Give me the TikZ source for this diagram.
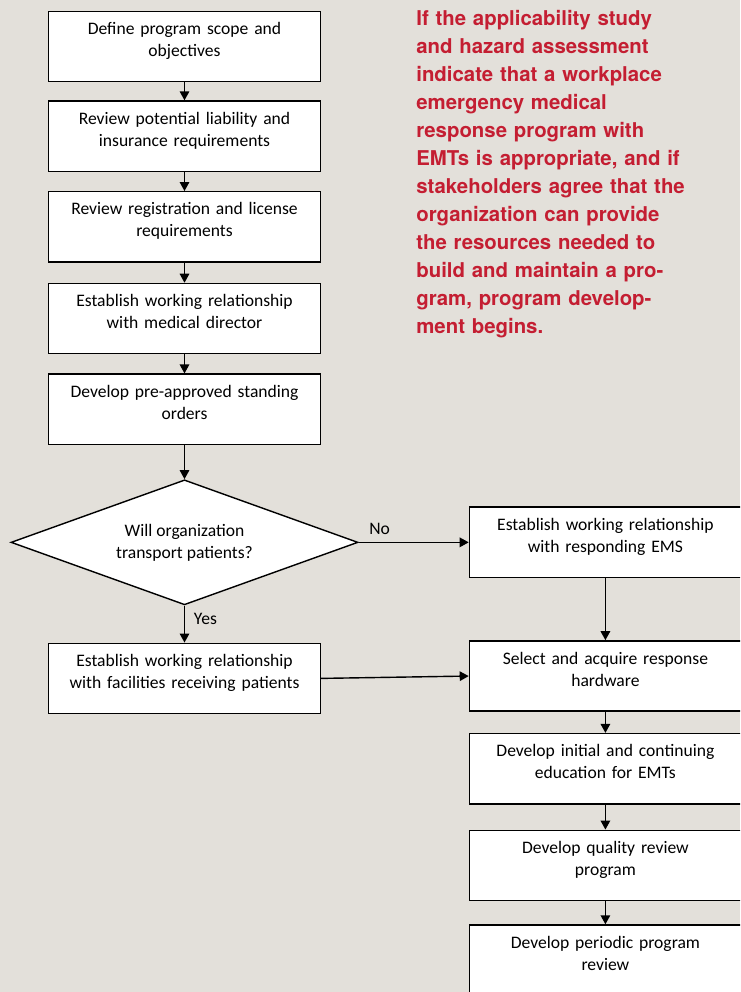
\documentclass[tikz,border=0pt]{standalone}
\usepackage{fontspec}
\setmainfont{Carlito}
\newfontfamily\introfont{TeX Gyre Heros}
\usetikzlibrary{positioning,arrows.meta,shapes.geometric}
\definecolor{pagebg}{RGB}{227,224,218}
\definecolor{introred}{RGB}{196,30,50}
\tikzset{
  box/.style={draw, fill=white, line width=0.8pt, align=center, text width=5.2cm, minimum width=5.44cm, inner ysep=1.2pt, text height=12pt, text depth=25.6pt, font=\fontsize{10}{12.5}\selectfont},
  decision/.style={draw, fill=white, diamond, aspect=2.78, line width=0.8pt, align=center, inner sep=0pt, minimum width=6.94cm, minimum height=2.5cm, font=\fontsize{10}{12.5}\selectfont},
  arrow/.style={-{Triangle[length=1.8mm, width=1.9mm]}, line width=0.8pt},
  lbl/.style={font=\fontsize{10}{12}\selectfont, inner sep=1pt}
}
\begin{document}
\begin{tikzpicture}
  \fill[pagebg] (0,0) rectangle (14.8,-19.84);
  \useasboundingbox (0,0) rectangle (14.8,-19.84);
  \clip (0,0) rectangle (14.8,-19.84);
  % intro text
  \node[anchor=base west, inner sep=0pt, text width=6.2cm, align=left, text=introred,
        font=\introfont\bfseries\fontsize{11.6}{15.9}\selectfont] (intro) at (8.32,-0.52)
    {If the applicability study\\and hazard assessment\\indicate that a workplace\\emergency medical\\response program with\\EMTs is appropriate, and if\\stakeholders agree that the\\organization can provide\\the resources needed to\\build and maintain a pro-\\gram, program develop-\\ment begins.};
  % left column
  \node[box] (scope) at (3.69,-0.93) {Define program scope and\\objectives};
  \node[box, below=0.36cm of scope] (liab) {Review potential liability and\\insurance requirements};
  \node[box, below=0.38cm of liab] (regis) {Review registration and license\\requirements};
  \node[box, below=0.4cm of regis] (mdir) {Establish working relationship\\with medical director};
  \node[box, below=0.38cm of mdir] (orders) {Develop pre-approved standing\\orders};
  \node[decision, below=0.68cm of orders] (transp) {Will organization\\transport patients?};
  \node[box, below=0.74cm of transp] (facil) {Establish working relationship\\with facilities receiving patients};
  % right column
  \node[box, right=2.2cm of transp] (ems) {Establish working relationship\\with responding EMS};
  \node[box, below=1.24cm of ems] (hardw) {Select and acquire response\\hardware};
  \node[box, below=0.42cm of hardw] (educ) {Develop initial and continuing\\education for EMTs};
  \node[box, below=0.5cm of educ] (qual) {Develop quality review\\program};
  \node[box, below=0.46cm of qual] (prev) {Develop periodic program\\review};
  % connectors
  \draw[arrow] (scope) -- (liab);
  \draw[arrow] (liab) -- (regis);
  \draw[arrow] (regis) -- (mdir);
  \draw[arrow] (mdir) -- (orders);
  \draw[arrow] (orders) -- (transp);
  \draw[arrow] (transp.east) -- node[lbl, pos=0.19, above=3pt] {No} (ems.west);
  \draw[arrow] (transp.south) -- node[lbl, pos=0.35, right=4pt] {Yes} (facil.north);
  \draw[arrow] (facil.east) -- (hardw.west);
  \draw[arrow] (ems) -- (hardw);
  \draw[arrow] (hardw) -- (educ);
  \draw[arrow] (educ) -- (qual);
  \draw[arrow] (qual) -- (prev);
\end{tikzpicture}
\end{document}
